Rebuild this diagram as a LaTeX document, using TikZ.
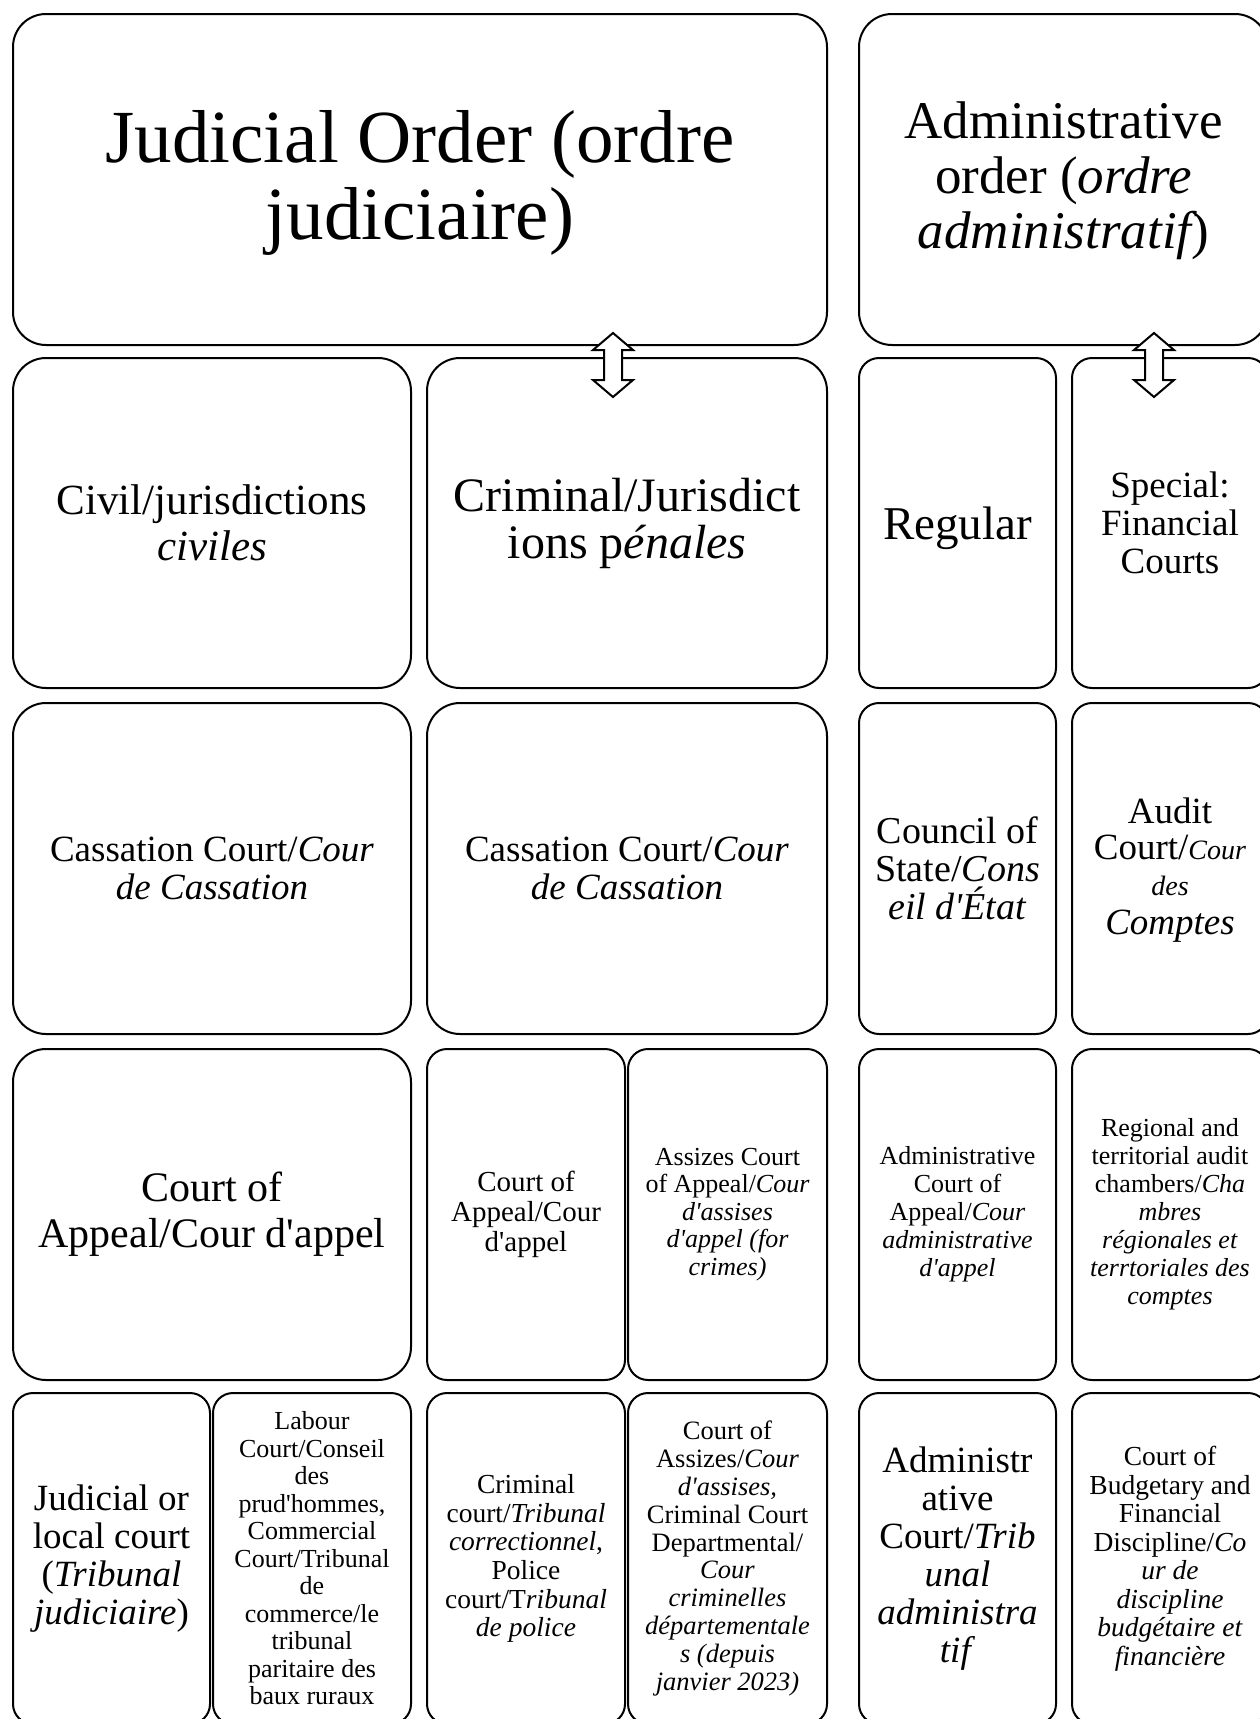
\documentclass[tikz,border=0pt]{standalone}
\usepackage{fontspec}
\setmainfont{Liberation Serif}[Ligatures=TeXOff]
\newcommand\fs[2]{\fontsize{#1pt}{#2pt}\selectfont}
\newcommand\txtdown[2]{\raisebox{-#1}[\height][\depth]{#2}}
\begin{document}
\begin{tikzpicture}[x=1pt,y=-1pt,
  box/.style={draw, line width=2pt, fill=white, align=center, inner sep=0pt},
  wbox/.style={box, minimum width=398pt, minimum height=331pt, rounded corners=33pt},
  nbox/.style={box, minimum width=197pt, minimum height=331pt, rounded corners=20pt},
  dblarrow/.style={draw, line width=2pt, fill=white, line join=miter}]
\useasboundingbox (0,0) rectangle (1260,1719);
\clip (0,0) rectangle (1260,1719);
\fill[white] (0,0) rectangle (1260,1719);
% row 1
\node[box, minimum width=814pt, minimum height=331pt, rounded corners=33pt, font=\fs{75}{77}] (jud) at (420,179.5) {\txtdown{6pt}{\begin{tabular}{@{}c@{}}Judicial Order (ordre\\judiciaire)\end{tabular}}};
\node[box, minimum width=409pt, minimum height=331pt, rounded corners=33pt, font=\fs{53}{55}] (adm) at (1063.5,179.5) {\txtdown{3pt}{\begin{tabular}{@{}c@{}}Administrative\\order ({\itshape ordre}\\{\itshape administratif})\end{tabular}}};
% row 2
\node[wbox, minimum height=330pt, font=\fs{43}{46}] (civ) at (212,523) {Civil/jurisdictions\\\textit{civiles}};
\node[wbox, minimum width=400pt, minimum height=330pt, font=\fs{48}{47}] (cri) at (627,523) {Criminal/Jurisdict\\ions p\textit{énales}};
\node[nbox, minimum height=330pt, font=\fs{47}{48}] (reg) at (957.5,523) {\txtdown{5pt}{Regular}};
\node[nbox, minimum width=196pt, minimum height=330pt, font=\fs{37}{38}] (spe) at (1170,523) {Special:\\Financial\\Courts};
% row 3
\node[wbox, font=\fs{37}{38}] (cas1) at (212,868.5) {Cassation Court/\textit{Cour}\\\textit{de Cassation}};
\node[wbox, minimum width=400pt, font=\fs{37}{38}] (cas2) at (627,868.5) {Cassation Court/\textit{Cour}\\\textit{de Cassation}};
\node[nbox, font=\fs{38}{38}] (cou) at (957.5,868.5) {Council of\\State/\textit{Cons}\\\textit{eil d'État}};
\node[nbox, minimum width=196pt, font=\fs{37}{36}] (aud) at (1170,868.5) {\txtdown{3pt}{\begin{tabular}{@{}c@{}}Audit\\Court/{\fs{28}{36}\textit{Cour}}\\{\fs{28}{36}\textit{des}}\\[3pt]\textit{Comptes}\end{tabular}}};
% row 4
\node[wbox, font=\fs{42}{46}] (app1) at (212,1214.5) {Court of\\Appeal/Cour d'appel};
\node[nbox, minimum width=198pt, font=\fs{29}{30}] (app2) at (526,1214.5) {Court of\\Appeal/Cour\\d'appel};
\node[nbox, minimum width=199pt, font=\fs{26}{27.5}] (ass) at (727.5,1214.5) {Assizes Court\\of Appeal/\textit{Cour}\\\textit{d'assises}\\\textit{d'appel (for}\\\textit{crimes)}};
\node[nbox, font=\fs{26}{28}] (aca) at (957.5,1214.5) {Administrative\\Court of\\Appeal/\textit{Cour}\\\textit{administrative}\\\textit{d'appel}};
\node[nbox, minimum width=196pt, font=\fs{26}{28}] (rat) at (1170,1214.5) {Regional and\\territorial audit\\chambers/\textit{Cha}\\\textit{mbres}\\\textit{régionales et}\\\textit{terrtoriales des}\\\textit{comptes}};
% row 5
\node[nbox, font=\fs{37}{38}] (tj) at (111.5,1558.5) {Judicial or\\local court\\(\textit{Tribunal}\\\textit{judiciaire})};
\node[nbox, minimum width=198pt, font=\fs{26}{27.5}] (lab) at (312,1558.5) {Labour\\Court/Conseil\\des\\prud'hommes,\\Commercial\\Court/Tribunal\\de\\commerce/le\\tribunal\\paritaire des\\baux ruraux};
\node[nbox, minimum width=198pt, font=\fs{27.5}{28.7}] (tc) at (526,1558.5) {Criminal\\court/\textit{Tribunal}\\\textit{correctionnel},\\Police\\court/T\textit{ribunal}\\\textit{de police}};
\node[nbox, minimum width=199pt, font=\fs{26.5}{27.8}] (cda) at (727.5,1558.5) {Court of\\Assizes/\textit{Cour}\\\textit{d'assises,}\\Criminal Court\\Departmental/\\\textit{Cour}\\\textit{criminelles}\\\textit{départementale}\\\textit{s (depuis}\\\textit{janvier 2023)}};
\node[nbox, font=\fs{37}{38}] (ta) at (957.5,1558.5) {Administr\\ative\\Court/\textit{Trib}\\\textit{unal}\\\textit{administra}\\\textit{tif}};
\node[nbox, minimum width=196pt, font=\fs{27.5}{28.5}] (cbf) at (1170,1558.5) {Court of\\Budgetary and\\Financial\\Discipline/\textit{Co}\\\textit{ur de}\\\textit{discipline}\\\textit{budgétaire et}\\\textit{financière}};
% double arrows
\coordinate (ar1) at (613,365);
\coordinate (ar2) at (1154,365);
\foreach \a in {ar1,ar2}{
  \draw[dblarrow, shift={(\a)}] (0,-32) -- (20,-15) -- (9,-15) -- (9,15) -- (20,15) -- (0,32) -- (-20,15) -- (-9,15) -- (-9,-15) -- (-20,-15) -- cycle;
}
\end{tikzpicture}
\end{document}
